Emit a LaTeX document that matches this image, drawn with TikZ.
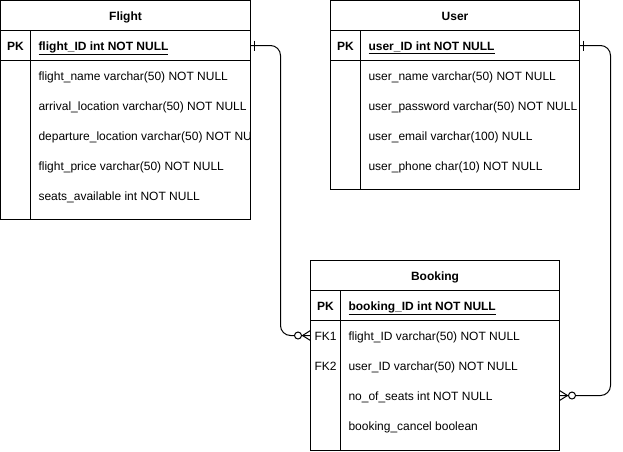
\documentclass[tikz,border=0pt]{standalone}
\usepackage{fontspec}
\setmainfont{Liberation Sans}

\begin{document}
\begin{tikzpicture}[x=1pt,y=-1pt,line width=1pt,
  field/.style={anchor=base west,inner sep=0pt,font=\fontsize{12}{14}\selectfont},
  keylbl/.style={anchor=base,inner sep=0pt,font=\fontsize{12}{14}\selectfont},
  title/.style={anchor=base,inner sep=0pt,font=\fontsize{12}{14}\selectfont\bfseries},
  rowbox/.style={draw,minimum height=30pt,inner sep=0pt,outer sep=0pt,anchor=north west,line width=1pt}]
\useasboundingbox (0,0) rectangle (623,451);

% Flight
\draw (0.5,0.5) rectangle (250.5,219.5);
\node[rowbox,minimum width=250pt] (flightpk) at (0.5,30.5) {};
\draw (30.5,30.5) -- (30.5,219.5);
\node[title] (flighttitle) at (125.5,20) {Flight};
\node[keylbl,font=\fontsize{12}{14}\selectfont\bfseries] (flightpklbl) at (15.5,50) {PK};
\begin{scope}
\clip (0,0) rectangle (250,219);
\node[field] (flightid) at (38,50) {\bfseries\underline{flight\_ID int NOT NULL}};
\node[field] (flightname) at (38,80) {flight\_name varchar(50) NOT NULL};
\node[field] (flightarr) at (38,110) {arrival\_location varchar(50) NOT NULL};
\node[field] (flightdep) at (38,140) {departure\_location varchar(50) NOT NULL};
\node[field] (flightprice) at (38,170) {flight\_price varchar(50) NOT NULL};
\node[field] (flightseats) at (38,200) {seats\_available int NOT NULL};
\end{scope}

% User
\draw (330.5,0.5) rectangle (579.5,189.5);
\node[rowbox,minimum width=249pt] (userpk) at (330.5,30.5) {};
\draw (360.5,30.5) -- (360.5,189.5);
\node[title] (usertitle) at (455,20) {User};
\node[keylbl,font=\fontsize{12}{14}\selectfont\bfseries] (userpklbl) at (345.5,50) {PK};
\node[field] (userid) at (368,50) {\bfseries\underline{user\_ID int NOT NULL}};
\node[field] (username) at (368,80) {user\_name varchar(50) NOT NULL};
\node[field] (userpass) at (368,110) {user\_password varchar(50) NOT NULL};
\node[field] (usermail) at (368,140) {user\_email varchar(100) NULL};
\node[field] (userphone) at (368,170) {user\_phone char(10) NOT NULL};

% Booking
\draw (310.5,260.5) rectangle (559.5,450.5);
\node[rowbox,minimum width=249pt] (bookpk) at (310.5,290.5) {};
\draw (340.5,290.5) -- (340.5,450.5);
\node[title] (booktitle) at (435,280) {Booking};
\node[keylbl,font=\fontsize{12}{14}\selectfont\bfseries] (bookpklbl) at (325.5,310) {PK};
\node[keylbl] (bookfklbla) at (325.5,340) {FK1};
\node[keylbl] (bookfklblb) at (325.5,370) {FK2};
\node[field] (bookid) at (348,310) {\bfseries\underline{booking\_ID int NOT NULL}};
\node[field] (bookflight) at (348,340) {flight\_ID varchar(50) NOT NULL};
\node[field] (bookuser) at (348,370) {user\_ID varchar(50) NOT NULL};
\node[field] (bookseats) at (348,400) {no\_of\_seats int NOT NULL};
\node[field] (bookcancel) at (348,430) {booking\_cancel boolean};
\coordinate (bookfki) at (310.5,335.5);
\coordinate (bookseatsr) at (559.5,395.5);

% relations
\draw[rounded corners=10pt] (flightpk.east) -| ([xshift=-30pt]bookfki) -- (bookfki);
\draw[rounded corners=10pt] (userpk.east) -| ([xshift=51pt]bookseatsr) -- (bookseatsr);

% one end
\draw ([xshift=4pt]flightpk.east) ++(0,-5) -- ++(0,10);
\draw ([xshift=4pt]userpk.east) ++(0,-5) -- ++(0,10);

% many end
\draw ([xshift=-8pt]bookfki) -- ++(8,-5);
\draw ([xshift=-8pt]bookfki) -- ++(8,5);
\draw[fill=white] ([xshift=-12.5pt]bookfki) circle (3.5pt);
\draw ([xshift=8pt]bookseatsr) -- ++(-8,-5);
\draw ([xshift=8pt]bookseatsr) -- ++(-8,5);
\draw[fill=white] ([xshift=12.5pt]bookseatsr) circle (3.5pt);
\end{tikzpicture}
\end{document}
